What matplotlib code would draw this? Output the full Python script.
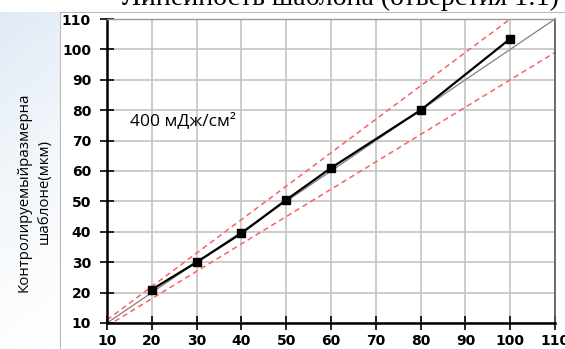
import matplotlib
matplotlib.use("Agg")
import matplotlib.pyplot as plt
import numpy as np
from matplotlib.patches import Rectangle
from matplotlib.colors import LinearSegmentedColormap

# Data
x_nominal = [20, 30, 40, 50, 60, 80, 100]
y_measured = [21, 30, 39.5, 50.5, 61, 80, 103.5]
ideal_x = [10, 110]
tol_upper = 1.1
tol_lower = 0.9
ticks = [10, 20, 30, 40, 50, 60, 70, 80, 90, 100, 110]
title = "Линейность шаблона (отверстия 1:1)"
ylabel = "Контролируемыйразмерна\nшаблоне(мкм)"
annot = "400 мДж/см²"

W, H = 565, 349
fig = plt.figure(figsize=(W / 100, H / 100), dpi=100)

# Slide-like background gradient
bg = fig.add_axes([0, 0, 1, 1], zorder=-10)
gx = np.linspace(0, 1, 200)[None, :]
gy = np.linspace(0, 1, 200)[:, None]
grad = np.clip(gx * 1.3 + gy * 0.9, 0, 1)
cmap = LinearSegmentedColormap.from_list("bg", ["#dfe9f5", "#f3f7fb", "#ffffff"])
bg.imshow(grad, aspect="auto", cmap=cmap, extent=[0, 1, 0, 1], origin="upper",
          transform=bg.transAxes)
bg.add_patch(Rectangle((0, 1 - 12 / H), 1, 12 / H, transform=bg.transAxes,
                       facecolor="white", edgecolor="none"))
bg.add_patch(Rectangle((60 / W, 0), 1, 1 - 12 / H, transform=bg.transAxes,
                       facecolor="white", edgecolor="#bbbbbb", lw=0.8))
bg.set_xlim(0, 1)
bg.set_ylim(0, 1)
bg.set_axis_off()

ax = fig.add_axes([107 / W, 1 - 323 / H, (555 - 107) / W, (323 - 19) / H])
ax.set_xlim(10, 110)
ax.set_ylim(10, 110)
ax.set_xticks(ticks)
ax.set_yticks(ticks)
ax.grid(True, color="#c4c4c4", lw=1.2)
ax.set_axisbelow(True)

xs = np.array(ideal_x, dtype=float)
ax.plot(xs, xs, color="#808080", lw=0.9)
ax.plot(xs, tol_upper * xs, color="#ff6060", lw=1.1, ls=(0, (3.5, 2.5)))
ax.plot(xs, tol_lower * xs, color="#ff6060", lw=1.1, ls=(0, (3.5, 2.5)))
ax.plot(x_nominal, y_measured, color="black", lw=1.6, marker="s", ms=5.5)

ax.text(15.1, 76.4, annot, fontsize=12.5, family="Open Sans", va="center", ha="left")

for lab in ax.get_xticklabels() + ax.get_yticklabels():
    lab.set_fontweight("bold")
ax.tick_params(axis="both", direction="inout", length=10, width=1.2, labelsize=10,
               colors="black")
ax.tick_params(axis="x", pad=3.0)
ax.tick_params(axis="y", pad=6.5)
for s in ["left", "bottom"]:
    ax.spines[s].set_linewidth(1.8)
    ax.spines[s].set_color("black")
ax.spines["top"].set_color("#999999")
ax.spines["top"].set_linewidth(1.0)
ax.spines["right"].set_color("#555555")
ax.spines["right"].set_linewidth(1.2)

fig.text(0.602, 1 - 5 / H, title, fontsize=20, family="Liberation Serif",
         ha="center", va="baseline")
fig.text(34 / W, 1 - 192 / H, ylabel, rotation=90, fontsize=10.8, family="Open Sans",
         ha="center", va="center", linespacing=1.5)

fig.savefig("out.png", dpi=100)
